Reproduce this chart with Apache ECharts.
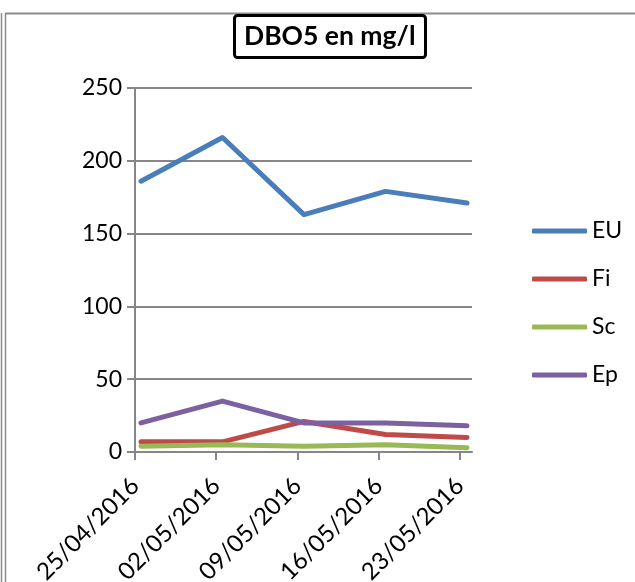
<!DOCTYPE html>
<html>
<head>
<meta charset="utf-8">
<script src="https://cdn.jsdelivr.net/npm/echarts@6/dist/echarts.min.js"></script>
<style>html,body{margin:0;padding:0;background:#fff;}#c{width:635px;height:582px;}</style>
</head>
<body>
<div id="c"></div>
<script>
const titleText = "DBO5 en mg/l";
const categories = ["25/04/2016", "02/05/2016", "09/05/2016", "16/05/2016", "23/05/2016"];
const seriesNames = ["EU", "Fi", "Sc", "Ep"];
const EU = [186, 216, 163, 179, 171];
const Fi = [7, 7, 21, 12, 10];
const Sc = [4, 5, 4, 5, 3];
const Ep = [20, 35, 20, 20, 18];
const yTicks = [0, 50, 100, 150, 200, 250];
const colors = ["#4A7EBB", "#BE4B48", "#98B954", "#7D60A0"];
const values = [EU, Fi, Sc, Ep];

const font = "Lato, 'Open Sans', sans-serif";
const catIdx = categories.map((c, i) => i);
const chart = echarts.init(document.getElementById('c'), null, {renderer: 'canvas'});
chart.setOption({
  animation: false,
  backgroundColor: '#fff',
  title: {
    text: titleText,
    left: 234, top: 15,
    padding: [7, 10, 7, 10],
    borderColor: '#000', borderWidth: 3, borderRadius: 3,
    textStyle: {fontFamily: font, fontWeight: 'bold', fontSize: 26.5, color: '#000', lineHeight: 29}
  },
  graphic: [
    {type: 'line', shape: {x1: 1.5, y1: 13, x2: 1.5, y2: 582}, style: {stroke: '#8c8c8c', lineWidth: 1.5}},
    {type: 'line', shape: {x1: 5.5, y1: 13, x2: 5.5, y2: 582}, style: {stroke: '#8c8c8c', lineWidth: 1.5}},
    {type: 'line', shape: {x1: 5, y1: 13.5, x2: 635, y2: 13.5}, style: {stroke: '#8c8c8c', lineWidth: 2}}
  ],
  legend: {
    orient: 'vertical',
    left: 532, top: 219,
    padding: 0,
    icon: 'roundRect',
    itemWidth: 55, itemHeight: 5, itemGap: 24,
    textStyle: {fontFamily: font, fontSize: 23, color: '#000', lineHeight: 24},
    data: seriesNames
  },
  grid: [
    {left: 135, right: 163, top: 88, bottom: 130, containLabel: false, outerBoundsMode: 'none'},
    {left: 141, right: 168, top: 88, bottom: 130, containLabel: false, outerBoundsMode: 'none'}
  ],
  xAxis: [
    {
      type: 'value', gridIndex: 0,
      min: 0, max: 4.148,
      splitLine: {show: false},
      axisLine: {show: true, onZero: false, lineStyle: {color: '#868686', width: 2}},
      axisTick: {show: true, length: 8, customValues: catIdx, lineStyle: {color: '#868686', width: 2}},
      axisLabel: {rotate: 45, margin: 30, fontFamily: font, fontSize: 24, color: '#000',
        customValues: catIdx, formatter: v => categories[Math.round(v)]}
    },
    {
      type: 'category', gridIndex: 1, data: categories, boundaryGap: false, show: false
    }
  ],
  yAxis: [
    {
      type: 'value', gridIndex: 0,
      min: 0, max: 250, interval: 50,
      axisLine: {show: true, lineStyle: {color: '#868686', width: 2}},
      axisTick: {show: true, length: 8, lineStyle: {color: '#868686', width: 2}},
      splitLine: {lineStyle: {color: '#868686', width: 2}},
      axisLabel: {margin: 13, fontFamily: font, fontSize: 23, color: '#000',
        formatter: v => yTicks.includes(v) ? String(v) : ''}
    },
    {
      type: 'value', gridIndex: 1, min: 0, max: 250, show: false, splitLine: {show: false}
    }
  ],
  series: seriesNames.map((n, i) => ({
    name: n, type: 'line', data: values[i],
    xAxisIndex: 1, yAxisIndex: 1,
    symbol: 'none', showSymbol: false,
    lineStyle: {color: colors[i], width: 5, cap: 'round', join: 'round'},
    itemStyle: {color: colors[i]}
  }))
});
</script>
</body>
</html>
